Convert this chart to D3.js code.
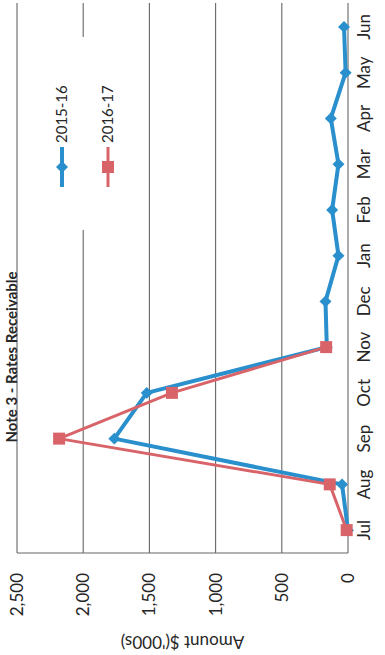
<!DOCTYPE html>
<html>
<head>
<meta charset="utf-8">
<script src="https://cdn.jsdelivr.net/npm/d3@7"></script>
<style>
  html, body { margin: 0; padding: 0; background: #fff; overflow: hidden; }
  svg { display: block; }
  text { font-family: Lato, "Noto Sans", sans-serif; fill: #262626; }
</style>
</head>
<body>
<svg id="chart" width="385" height="655"></svg>
<script>
// Monthly rates receivable, $'000s
const months = ["Jul", "Aug", "Sep", "Oct", "Nov", "Dec", "Jan", "Feb", "Mar", "Apr", "May", "Jun"];
const series2015 = [0, 45, 1765, 1520, 160, 170, 72, 120, 72, 130, 18, 30];
const series2016 = [10, 138, 2182, 1330, 165];
const valueTicks = [0, 500, 1000, 1500, 2000, 2500];
const seriesNames = ["2015-16", "2016-17"];
const titleText = "Note 3 - Rates Receivable";
const axisTitle = "Amount $('000s)";

const blue = "#2a8fcd";
const red = "#d8646a";

// The chart is laid out in a landscape frame (655 x 385) and turned a quarter turn
const FW = 655;
const svg = d3.select("#chart");
const g = svg.append("g").attr("transform", `translate(0,${FW}) rotate(-90)`);

const x = d3.scalePoint().domain(months).range([102, 651]).padding(0.5);
const y = d3.scaleLinear().domain([0, 2500]).range([348, 17]);

// gridlines
g.append("g").selectAll("line").data(valueTicks).join("line")
  .attr("x1", 102).attr("x2", 652)
  .attr("y1", d => y(d)).attr("y2", d => y(d))
  .attr("stroke", "#666").attr("stroke-width", 1.1);

// value axis line
g.append("line").attr("x1", 102).attr("x2", 102).attr("y1", y(2500)).attr("y2", y(0))
  .attr("stroke", "#666").attr("stroke-width", 1.1);

// value tick labels
const fmt = d3.format(",");
g.append("g").selectAll("text").data(valueTicks).join("text")
  .attr("x", 82).attr("y", d => y(d)).attr("dy", "0.35em")
  .attr("text-anchor", "end").attr("font-size", 17)
  .text(d => fmt(d));

// category labels
g.append("g").selectAll("text").data(months).join("text")
  .attr("x", d => x(d)).attr("y", 370)
  .attr("text-anchor", "middle").attr("font-size", 17)
  .text(d => d);

// axis title
g.append("text")
  .attr("transform", `translate(19,${(y(0) + y(2500)) / 2}) rotate(-90)`)
  .attr("text-anchor", "middle").attr("font-size", 17)
  .text(axisTitle);

// chart title
g.append("text")
  .attr("x", 298).attr("y", 17)
  .attr("text-anchor", "middle").attr("font-size", 15).attr("font-weight", "bold")
  .text(titleText);

// legend
const legend = g.append("g");
legend.append("rect").attr("x", 425).attr("y", 40).attr("width", 193).attr("height", 90)
  .attr("fill", "#fff");

const diamond = d3.symbol().type(d3.symbolSquare).size(72);
const square = d3.symbol().type(d3.symbolSquare).size(144);

const legendRows = [
  { name: seriesNames[0], color: blue, width: 4, sym: diamond, rot: 45, yy: 62 },
  { name: seriesNames[1], color: red, width: 3, sym: square, rot: 0, yy: 108 }
];
legendRows.forEach(r => {
  legend.append("line").attr("x1", 468).attr("x2", 508).attr("y1", r.yy).attr("y2", r.yy)
    .attr("stroke", r.color).attr("stroke-width", r.width);
  legend.append("path").attr("d", r.sym)
    .attr("transform", `translate(488,${r.yy}) rotate(${r.rot})`)
    .attr("fill", r.color);
  legend.append("text").attr("x", 512).attr("y", r.yy).attr("dy", "0.35em")
    .attr("font-size", 15).text(r.name);
});

// series lines and markers
const line = d3.line().x((d, i) => x(months[i])).y(d => y(d));

g.append("path").datum(series2015).attr("d", line)
  .attr("fill", "none").attr("stroke", blue).attr("stroke-width", 4).attr("stroke-linejoin", "round");
g.append("g").selectAll("path").data(series2015).join("path")
  .attr("d", diamond)
  .attr("transform", (d, i) => `translate(${x(months[i])},${y(d)}) rotate(45)`)
  .attr("fill", blue);

g.append("path").datum(series2016).attr("d", line)
  .attr("fill", "none").attr("stroke", red).attr("stroke-width", 3).attr("stroke-linejoin", "round");
g.append("g").selectAll("path").data(series2016).join("path")
  .attr("d", square)
  .attr("transform", (d, i) => `translate(${x(months[i])},${y(d)})`)
  .attr("fill", red);
</script>
</body>
</html>
